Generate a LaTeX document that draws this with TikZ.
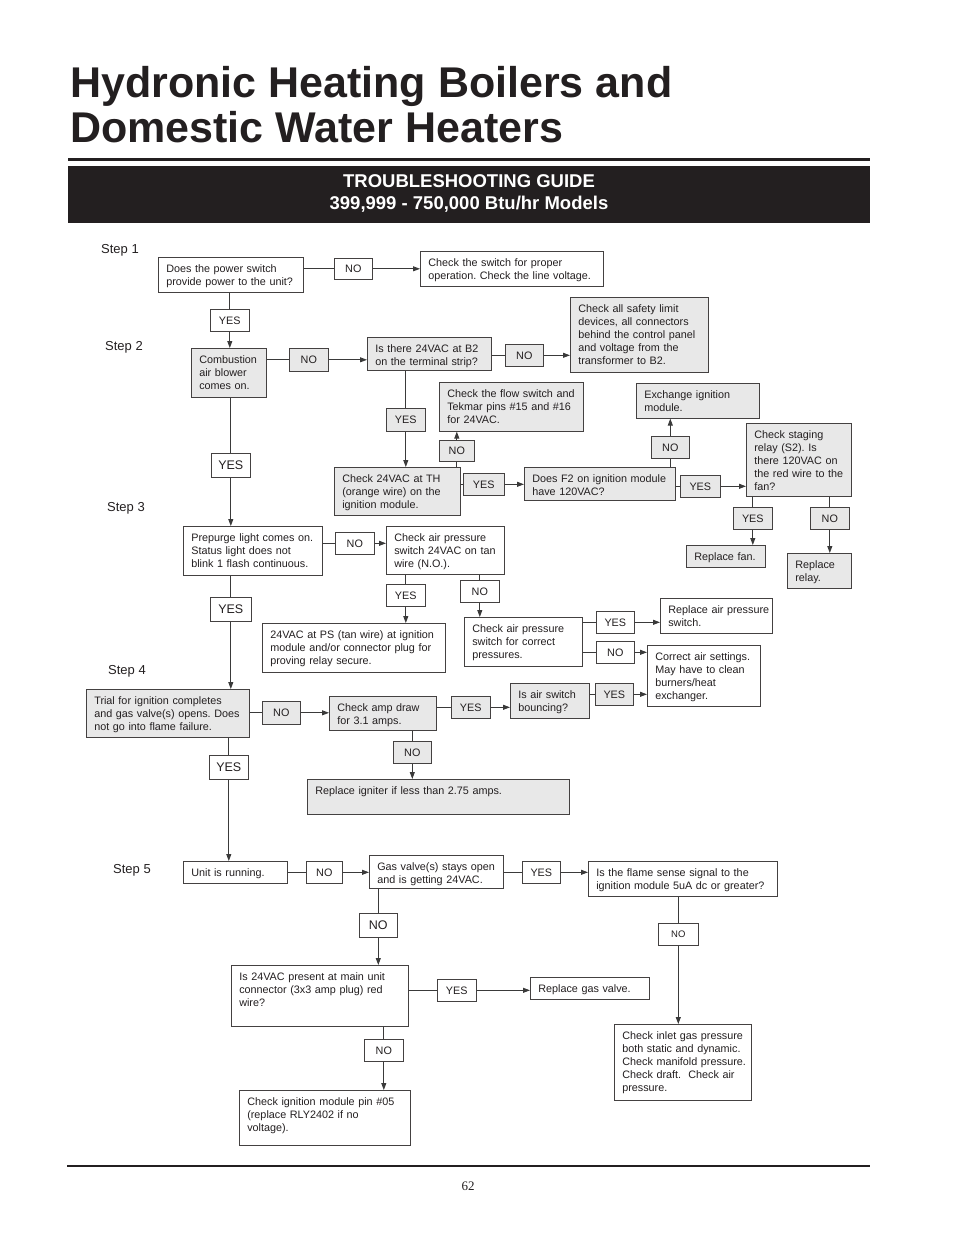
\documentclass[tikz,border=0pt]{standalone}
\usepackage{fontspec}
\setmainfont{Liberation Sans}
\newfontfamily\pagefont{Liberation Serif}
\usetikzlibrary{arrows.meta,shadows}
\frenchspacing
\hyphenpenalty=10000
\exhyphenpenalty=10000
\definecolor{ink}{HTML}{231F20}
\definecolor{wire}{HTML}{3A3A3A}
\definecolor{panel}{HTML}{E8E8E8}
\tikzset{
  every node/.style={font=\fontsize{10.8}{13}\selectfont,text=ink},
  qbox/.style={draw=ink!85,fill=white,line width=.6pt,anchor=north west,align=left,
    inner xsep=8pt,inner ysep=7pt,text height=8pt,
    drop shadow={shadow xshift=.9pt,shadow yshift=-.9pt,fill=ink!75,opacity=1}},
  qgray/.style={qbox,fill=panel},
  tag/.style={draw=ink!85,fill=white,line width=.6pt,anchor=north west,inner sep=0pt,
    drop shadow={shadow xshift=.9pt,shadow yshift=-.9pt,fill=ink!75,opacity=1}},
  taggray/.style={tag,fill=panel},
  bigtag/.style={tag,font=\fontsize{12.5}{14}\selectfont},
  steplabel/.style={anchor=west,inner sep=0pt,font=\fontsize{13}{15}\selectfont},
  heading/.style={anchor=base west,inner sep=0pt,font=\fontsize{43}{45}\selectfont\bfseries},
  banner/.style={inner sep=0pt,text=white,font=\fontsize{18.5}{20}\selectfont\bfseries},
  link/.style={draw=wire,line width=.9pt},
  arr/.style={link,-{Triangle[length=7pt,width=5pt]}}
}

\begin{document}
\begin{tikzpicture}[x=1pt,y=-1pt]
  \useasboundingbox (0,0) rectangle (954,1235);
  % Page heading and banner.
  \node[heading] (title1) at (70,97) {Hydronic Heating Boilers and};
  \node[heading] (title2) at (70,142) {Domestic Water Heaters};
  \fill[ink] (68,157.5) rectangle (870,160.5);
  \fill[ink] (68,166) rectangle (870,223);
  \node[banner] (guide) at (469,181) {TROUBLESHOOTING GUIDE};
  \node[banner] (models) at (469,204) {399,999 - 750,000 Btu/hr Models};
  \foreach \n/\x/\y in {1/101/250,2/105/347,3/107/508,4/108/671,5/113/870}
    \node[steplabel] (step\n) at (\x,\y) {Step \n};

  % Step 1: power switch.
  \node[qbox,text width=129pt,text depth=13pt] (power) at (158,257) {Does the power switch\\provide power to the unit?};
  \node[tag,minimum width=38pt,minimum height=21pt] (no1) at (334,258) {NO};
  \node[qbox,text width=167pt,text depth=13pt] (chkswitch) at (420,251) {Check the switch for proper\\operation. Check the line voltage.};
  \node[tag,minimum width=39pt,minimum height=22pt] (yes1) at (210,309) {YES};
  \draw[link] (no1.west -| power.east) -- (no1.west);
  \draw[arr] (no1.east) -- (no1.east -| chkswitch.west);
  \draw[link] (yes1.north |- power.south) -- (yes1.north);

  % Step 2: combustion air blower and the 24VAC / 120VAC checks.
  \node[qgray,text width=59pt,text depth=27pt] (blower) at (191,348) {Combustion\\air blower\\comes on.};
  \node[taggray,minimum width=39pt,minimum height=23pt] (no2) at (289,348) {NO};
  \node[qgray,text width=108pt,text depth=11pt] (b2) at (367,337) {Is there 24VAC at B2\\on the terminal strip?};
  \node[taggray,minimum width=38pt,minimum height=22pt] (no3) at (505,344) {NO};
  \node[qgray,text width=122pt,text depth=53pt] (safety) at (570,297) {Check all safety limit\\devices, all connectors\\behind the control panel\\and voltage from the\\transformer to B2.};
  \node[taggray,minimum width=39pt,minimum height=23pt] (yes3) at (386,408) {YES};
  \node[qgray,text width=128pt,text depth=27pt] (flow) at (439,382) {Check the flow switch and\\Tekmar pins \#15 and \#16\\for 24VAC.};
  \node[taggray,minimum width=35pt,minimum height=21pt] (no4) at (439,440) {NO};
  \node[qgray,text width=110pt,text depth=26pt] (th) at (334,467) {Check 24VAC at TH\\(orange wire) on the\\ignition module.};
  \node[taggray,minimum width=41pt,minimum height=22pt] (yes5) at (463,473) {YES};
  \node[qgray,text width=135pt,text depth=11pt] (f2) at (524,467) {Does F2 on ignition module\\have 120VAC?};
  \node[taggray,minimum width=38pt,minimum height=22pt] (no5) at (651,436) {NO};
  \node[qgray,text width=107pt,text depth=13pt] (exchange) at (636,383) {Exchange ignition\\module.};
  \node[taggray,minimum width=40pt,minimum height=22pt] (yes6) at (680,475) {YES};
  \node[qgray,text width=89pt,text depth=51pt] (staging) at (746,423) {Check staging\\relay (S2). Is\\there 120VAC on\\the red wire to the\\fan?};
  \node[taggray,minimum width=39pt,minimum height=22pt] (yes7) at (733,507) {YES};
  \node[taggray,minimum width=39pt,minimum height=22pt] (no6) at (810,507) {NO};
  \node[qgray,text width=63pt,text depth=0pt] (fan) at (686,545) {Replace fan.};
  \node[qgray,text width=48pt,text depth=13pt] (relay) at (787,553) {Replace\\relay.};
  \node[bigtag,minimum width=39pt,minimum height=24pt] (yes4) at (211,453) {YES};
  \draw[arr] (yes1.south) -- (yes1.south |- blower.north);
  \draw[link] (no2.west -| blower.east) -- (no2.west);
  \draw[arr] (no2.east) -- (no2.east -| b2.west);
  \draw[link] (no3.west -| b2.east) -- (no3.west);
  \draw[arr] (no3.east) -- (no3.east -| safety.west);
  \draw[link] (yes3.north |- b2.south) -- (yes3.north);
  \draw[arr] (yes3.south) -- (yes3.south |- th.north);
  \draw[link] (no4.south |- th.north) -- (no4.south);
  \draw[arr] (no4.north) -- (no4.north |- flow.south);
  \draw[link] (yes5.west -| th.east) -- (yes5.west);
  \draw[arr] (yes5.east) -- (yes5.east -| f2.west);
  \draw[link] (no5.south |- f2.north) -- (no5.south);
  \draw[arr] (no5.north) -- (no5.north |- exchange.south);
  \draw[link] (yes6.west -| f2.east) -- (yes6.west);
  \draw[arr] (yes6.east) -- (yes6.east -| staging.west);
  \draw[link] (yes7.north |- staging.south) -- (yes7.north);
  \draw[arr] (yes7.south) -- (yes7.south |- fan.north);
  \draw[link] (no6.north |- staging.south) -- (no6.north);
  \draw[arr] (no6.south) -- (no6.south |- relay.north);
  \draw[link] (yes4.north |- blower.south) -- (yes4.north);

  % Step 3: prepurge and air pressure switch.
  \node[qbox,text width=123pt,text depth=27pt] (prepurge) at (183,526) {Prepurge light comes on.\\Status light does not\\blink 1 flash continuous.};
  \node[tag,minimum width=39pt,minimum height=22pt] (no7) at (335,532) {NO};
  \node[qbox,text width=102pt,text depth=26pt] (airps) at (386,526) {Check air pressure\\switch 24VAC on tan\\wire (N.O.).};
  \node[tag,minimum width=39pt,minimum height=22pt] (yes8) at (386,584) {YES};
  \node[qbox,text width=167pt,text depth=27pt] (tanwire) at (262,623) {24VAC at PS (tan wire) at ignition\\module and/or connector plug for\\proving relay secure.};
  \node[tag,minimum width=39pt,minimum height=22pt] (no8) at (460,580) {NO};
  \node[qbox,text width=102pt,text depth=27pt] (correctps) at (464,617) {Check air pressure\\switch for correct\\pressures.};
  \node[tag,minimum width=38pt,minimum height=22pt] (yes9) at (596,611) {YES};
  \node[qbox,text width=96pt,text depth=13pt] (replaceps) at (660,598) {\mbox{Replace air pressure}\\switch.};
  \node[tag,minimum width=38pt,minimum height=22pt] (no9) at (596,641) {NO};
  \node[qbox,text width=97pt,text depth=39pt] (correctair) at (647,645) {Correct air settings.\\May have to clean\\burners/heat\\exchanger.};
  \node[bigtag,minimum width=41pt,minimum height=24pt] (yes12) at (210,597) {YES};
  \draw[arr] (yes4.south) -- (yes4.south |- prepurge.north);
  \draw[link] (no7.west -| prepurge.east) -- (no7.west);
  \draw[arr] (no7.east) -- (no7.east -| airps.west);
  \draw[link] (yes8.north |- airps.south) -- (yes8.north);
  \draw[arr] (yes8.south) -- (yes8.south |- tanwire.north);
  \draw[link] (no8.north |- airps.south) -- (no8.north);
  \draw[arr] (no8.south) -- (no8.south |- correctps.north);
  \draw[link] (yes9.west -| correctps.east) -- (yes9.west);
  \draw[arr] (yes9.east) -- (yes9.east -| replaceps.west);
  \draw[link] (no9.west -| correctps.east) -- (no9.west);
  \draw[arr] (no9.east) -- (no9.east -| correctair.west);
  \draw[link] (yes12.north |- prepurge.south) -- (yes12.north);

  % Step 4: trial for ignition and amp draw.
  \node[qgray,text width=147pt,text depth=26pt] (trial) at (86,689) {Trial for ignition completes\\and gas valve(s) opens. Does\\not go into flame failure.};
  \node[taggray,minimum width=38pt,minimum height=23pt] (no10) at (262,701) {NO};
  \node[qgray,text width=91pt,text depth=12pt] (ampdraw) at (329,696) {Check amp draw\\for 3.1 amps.};
  \node[taggray,minimum width=39pt,minimum height=22pt] (yes11) at (451,696) {YES};
  \node[qgray,text width=63pt,text depth=13pt] (bouncing) at (510,683) {Is air switch\\bouncing?};
  \node[taggray,minimum width=38pt,minimum height=22pt] (yes10) at (595,683) {YES};
  \node[taggray,minimum width=38pt,minimum height=22pt] (no11) at (393,741) {NO};
  \node[qgray,text width=246pt,text depth=13pt] (igniter) at (307,779) {Replace igniter if less than 2.75 amps.};
  \node[bigtag,minimum width=39pt,minimum height=24pt] (yes13) at (209,755) {YES};
  \draw[arr] (yes12.south) -- (yes12.south |- trial.north);
  \draw[link] (no10.west -| trial.east) -- (no10.west);
  \draw[arr] (no10.east) -- (no10.east -| ampdraw.west);
  \draw[link] (yes11.west -| ampdraw.east) -- (yes11.west);
  \draw[arr] (yes11.east) -- (yes11.east -| bouncing.west);
  \draw[link] (yes10.west -| bouncing.east) -- (yes10.west);
  \draw[arr] (yes10.east) -- (yes10.east -| correctair.west);
  \draw[link] (no11.north |- ampdraw.south) -- (no11.north);
  \draw[arr] (no11.south) -- (no11.south |- igniter.north);
  \draw[link] (yes13.north |- trial.south) -- (yes13.north);

  % Step 5: unit running, gas valve and flame sense.
  \node[qbox,text width=88pt,text depth=0pt] (unit) at (183,861) {Unit is running.};
  \node[tag,minimum width=36pt,minimum height=22pt] (no12) at (306,861) {NO};
  \node[qbox,text width=118pt,text depth=11pt] (gasopen) at (369,855) {Gas valve(s) stays open\\and is getting 24VAC.};
  \node[tag,minimum width=38pt,minimum height=22pt] (yes14) at (522,861) {YES};
  \node[qbox,text width=173pt,text depth=13pt] (flame) at (588,861) {Is the flame sense signal to the\\ignition module 5uA dc or greater?};
  \node[bigtag,minimum width=38pt,minimum height=24pt] (no13) at (359,913) {NO};
  \node[tag,minimum width=40pt,minimum height=22pt,font=\fontsize{9.5}{11}\selectfont] (no14) at (658,923) {NO};
  \node[qbox,text width=161pt,text depth=39pt] (present) at (231,965) {Is 24VAC present at main unit\\connector (3x3 amp plug) red\\wire?};
  \node[tag,minimum width=39pt,minimum height=22pt] (yes15) at (437,979) {YES};
  \node[qbox,text width=103pt,text depth=0pt] (gasvalve) at (530,977) {Replace gas valve.};
  \node[tag,minimum width=39pt,minimum height=22pt] (no15) at (364,1039) {NO};
  \node[qbox,text width=155pt,text depth=33pt] (pin) at (239,1090) {Check ignition module pin \#05\\(replace RLY2402 if no\\voltage).};
  \node[qbox,text width=121pt,text depth=54pt] (inlet) at (614,1024) {Check inlet gas pressure\\both static and dynamic.\\\mbox{Check manifold pressure.}\\Check draft.\ \ Check air\\pressure.};
  \draw[arr] (yes13.south) -- (yes13.south |- unit.north);
  \draw[link] (no12.west -| unit.east) -- (no12.west);
  \draw[arr] (no12.east) -- (no12.east -| gasopen.west);
  \draw[link] (yes14.west -| gasopen.east) -- (yes14.west);
  \draw[arr] (yes14.east) -- (yes14.east -| flame.west);
  \draw[link] (no13.north |- gasopen.south) -- (no13.north);
  \draw[arr] (no13.south) -- (no13.south |- present.north);
  \draw[link] (no14.north |- flame.south) -- (no14.north);
  \draw[arr] (no14.south) -- (no14.south |- inlet.north);
  \draw[link] (yes15.west -| present.east) -- (yes15.west);
  \draw[arr] (yes15.east) -- (yes15.east -| gasvalve.west);
  \draw[link] (no15.north |- present.south) -- (no15.north);
  \draw[arr] (no15.south) -- (no15.south |- pin.north);

  % Footer rule and page number.
  \fill[ink] (67,1165) rectangle (870,1167);
  \node[font=\pagefont\fontsize{13}{15}\selectfont] (page) at (468,1186) {62};
\end{tikzpicture}
\end{document}
